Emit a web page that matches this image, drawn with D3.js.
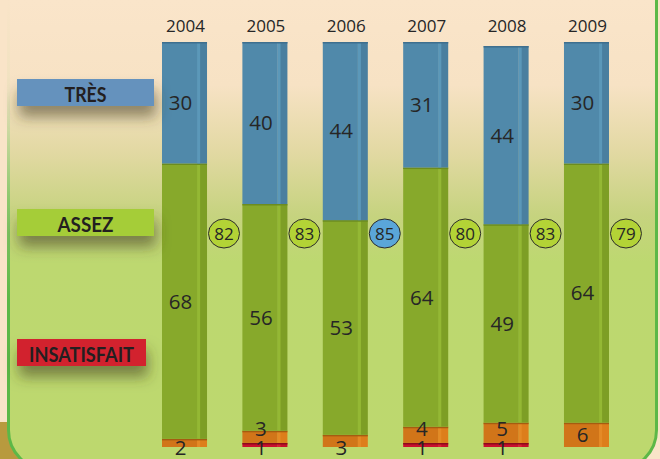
<!DOCTYPE html>
<html>
<head>
<meta charset="utf-8">
<script src="https://cdn.jsdelivr.net/npm/d3@7"></script>
<style>
  html, body { margin: 0; padding: 0; background: #f9e4c8; }
  svg { display: block; }
</style>
</head>
<body>
<div id="chart"></div>
<script>
// data
const years = ["2004", "2005", "2006", "2007", "2008", "2009"];
const tres = [30, 40, 44, 31, 44, 30];
const assez = [68, 56, 53, 64, 49, 64];
const peu = [2, 3, 3, 4, 5, 6];
const pas = [0, 1, 0, 1, 1, 0];
const totals = [82, 83, 85, 80, 83, 79];
const legendLabels = ["TRÈS", "ASSEZ", "INSATISFAIT"];

const width = 660, height = 459;

const svg = d3.select("#chart").append("svg")
  .attr("width", width)
  .attr("height", height);

const defs = svg.append("defs");

const panelGrad = defs.append("linearGradient")
  .attr("id", "panelGrad")
  .attr("gradientUnits", "userSpaceOnUse")
  .attr("x1", 0).attr("y1", 0).attr("x2", 0).attr("y2", height);
[[0, "#fae5ca"], [85, "#f7e2c4"], [150, "#e3d9a4"], [215, "#c6d37f"], [262, "#bdd870"], [459, "#bdd86e"]]
  .forEach(s => panelGrad.append("stop").attr("offset", s[0] / height).attr("stop-color", s[1]));

const borderGrad = defs.append("linearGradient")
  .attr("id", "borderGrad")
  .attr("gradientUnits", "userSpaceOnUse")
  .attr("x1", 0).attr("y1", 0).attr("x2", 0).attr("y2", height);
[[0, "#f9e4c8"], [90, "#f0e2c0"], [200, "#8cc86c"], [300, "#5cb847"], [459, "#5cb847"]]
  .forEach(s => borderGrad.append("stop").attr("offset", s[0] / height).attr("stop-color", s[1]));

const shadow = defs.append("filter")
  .attr("id", "shadow")
  .attr("x", "-20%").attr("y", "-50%").attr("width", "140%").attr("height", "250%");
shadow.append("feDropShadow")
  .attr("dx", 2).attr("dy", 11).attr("stdDeviation", 7)
  .attr("flood-color", "#3d3a1e").attr("flood-opacity", 0.55);

// background
svg.append("rect").attr("width", width).attr("height", height).attr("fill", "#f9e4c8");
svg.append("rect").attr("x", 0).attr("y", 422).attr("width", 70).attr("height", 40).attr("fill", "#b89a3e");

svg.append("rect")
  .attr("x", 8.5).attr("y", -40)
  .attr("width", 648).attr("height", 510)
  .attr("rx", 40)
  .attr("fill", "url(#panelGrad)")
  .attr("stroke", "url(#borderGrad)")
  .attr("stroke-width", 3);

// right edge stays bright green all the way up
svg.append("line")
  .attr("x1", 656.5).attr("x2", 656.5)
  .attr("y1", 0).attr("y2", 430)
  .attr("stroke", "#5cb847")
  .attr("stroke-width", 3);

// scales
const x = d3.scaleBand()
  .domain(years)
  .range([162, 609])
  .paddingInner(0.44)
  .paddingOuter(0)
  .align(0);

const y = d3.scaleLinear().domain([0, 100]).range([447, 42]);

const series = [
  { key: "pas", values: pas, front: "#c8102e", side: "#c3102a", strip: "#d81e36", line: "#8c0a1c" },
  { key: "peu", values: peu, front: "#d17519", side: "#dd7e1b", strip: "#e48a26", line: "#a55c10" },
  { key: "assez", values: assez, front: "#87a92b", side: "#7d9e25", strip: "#94b834", line: "#6c8c20" },
  { key: "tres", values: tres, front: "#5089aa", side: "#4a7f9f", strip: "#5b98b9", line: "#3e6f8e" }
];

const bw = x.bandwidth();
const fw = bw * 0.78;

const bars = years.map((yr, i) => {
  let acc = 0;
  const segs = [];
  series.forEach(s => {
    const v = s.values[i];
    if (v > 0) segs.push({ s, v, y0: acc, y1: acc + v });
    acc += v;
  });
  return { yr, i, segs };
});

const g = svg.append("g");

bars.forEach(b => {
  const x0 = x(b.yr);
  const bg = g.append("g").attr("class", "bar");
  b.segs.forEach(seg => {
    const top = y(seg.y1), bot = y(seg.y0);
    bg.append("rect").attr("x", x0).attr("y", top).attr("width", fw).attr("height", bot - top).attr("fill", seg.s.front);
    bg.append("rect").attr("x", x0 + fw).attr("y", top).attr("width", bw - fw).attr("height", bot - top).attr("fill", seg.s.side);
    bg.append("rect").attr("x", x0 + fw).attr("y", top).attr("width", 3).attr("height", bot - top).attr("fill", seg.s.strip);
    bg.append("rect").attr("x", x0).attr("y", top).attr("width", bw).attr("height", Math.min(1.5, bot - top)).attr("fill", seg.s.line);
  });

  // value labels, small bottom segments pushed below / stacked upward
  let slot = y(0) + 0.5;
  b.segs.forEach(seg => {
    const top = y(seg.y1), bot = y(seg.y0);
    let cy = (top + bot) / 2;
    if (bot - top < 20) {
      cy = slot;
    } else {
      cy = Math.min(cy, slot);
    }
    slot -= 18.5;
    bg.append("text")
      .attr("x", x0 + fw / 2 + 1)
      .attr("y", cy)
      .attr("dy", "0.36em")
      .attr("text-anchor", "middle")
      .attr("font-family", "Open Sans, sans-serif")
      .attr("font-size", 20.5)
      .attr("fill", "#262626")
      .text(seg.v);
  });
});

// year labels
svg.selectAll(".year")
  .data(years)
  .enter().append("text")
  .attr("class", "year")
  .attr("x", d => x(d) + bw / 2 + 1)
  .attr("y", 31.5)
  .attr("text-anchor", "middle")
  .attr("font-family", "Open Sans, sans-serif")
  .attr("font-size", 17)
  .attr("fill", "#262626")
  .text(d => d);

// total circles
const maxTotal = d3.max(totals);
const circ = svg.selectAll(".total")
  .data(years.map((yr, i) => ({ yr, v: totals[i] })))
  .enter().append("g")
  .attr("class", "total")
  .attr("transform", d => `translate(${x(d.yr) + 62},233.5)`);

circ.append("ellipse")
  .attr("rx", 15.5).attr("ry", 14.5)
  .attr("fill", d => d.v === maxTotal ? "#5aa6d9" : "#b3d336")
  .attr("stroke", "#2c2c2c")
  .attr("stroke-width", 1);

circ.append("text")
  .attr("dy", "0.36em")
  .attr("text-anchor", "middle")
  .attr("font-family", "Open Sans, sans-serif")
  .attr("font-size", 17)
  .attr("fill", "#262626")
  .text(d => d.v);

// legend
const legend = [
  { label: legendLabels[0], y: 79, w: 137, tw: 42, color: "#6592bd" },
  { label: legendLabels[1], y: 209, w: 137, tw: 56, color: "#a5cd39" },
  { label: legendLabels[2], y: 339, w: 129, tw: 105, color: "#d2202f" }
];

const lg = svg.selectAll(".legend")
  .data(legend)
  .enter().append("g")
  .attr("class", "legend")
  .attr("transform", d => `translate(17,${d.y})`);

lg.append("rect")
  .attr("width", d => d.w)
  .attr("height", 27)
  .attr("fill", d => d.color)
  .attr("filter", "url(#shadow)");

lg.append("text")
  .attr("x", d => d.w / 2)
  .attr("y", 23.3)
  .attr("text-anchor", "middle")
  .attr("font-family", "Lato, sans-serif")
  .attr("font-weight", 700)
  .attr("font-size", 21.5)
  .attr("textLength", d => d.tw)
  .attr("lengthAdjust", "spacingAndGlyphs")
  .attr("fill", "#231f20")
  .text(d => d.label);
</script>
</body>
</html>
